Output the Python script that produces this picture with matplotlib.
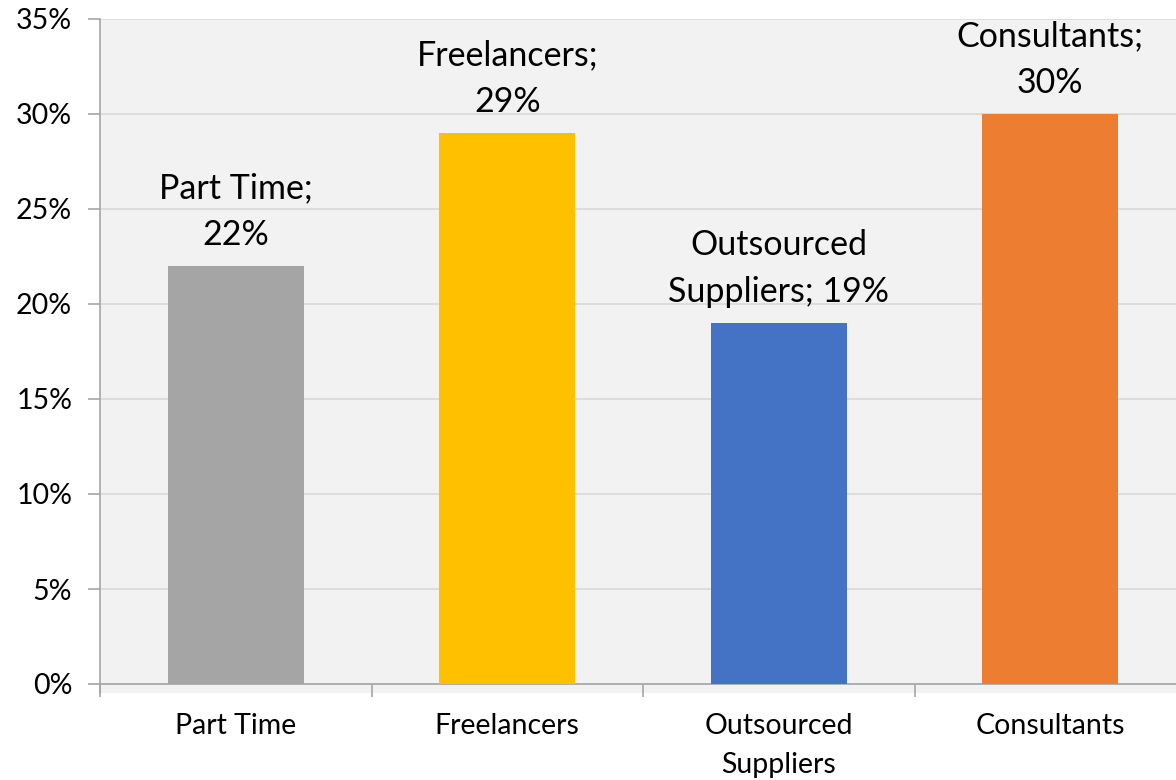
import matplotlib
matplotlib.use("Agg")
import matplotlib.pyplot as plt
from matplotlib.ticker import FuncFormatter, FixedLocator

categories = ["Part Time", "Freelancers", "Outsourced\nSuppliers", "Consultants"]
label_texts = ["Part Time;\n22%", "Freelancers;\n29%", "Outsourced\nSuppliers; 19%", "Consultants;\n30%"]
values = [0.22, 0.29, 0.19, 0.30]
colors = ["#a5a5a5", "#ffc000", "#4472c4", "#ed7d31"]

plt.rcParams["font.family"] = ["Lato", "DejaVu Sans"]

fig = plt.figure(figsize=(11.76, 7.8), dpi=100, facecolor="white")
# plot area runs a little past the right edge, like the cropped original
ax = fig.add_axes([100 / 1176, 1 - 693 / 780, 1086 / 1176, 674 / 780])
ax.set_facecolor("#f2f2f2")

x = range(len(values))
ax.bar(x, values, width=0.5, color=colors, zorder=3)

ax.set_xlim(-0.5, 3.5)
ax.set_ylim(-0.35 * 9 / 665, 0.35)
ax.set_yticks([i * 0.05 for i in range(8)])
ax.yaxis.set_major_formatter(FuncFormatter(lambda v, p: "{:.0f}%".format(v * 100)))
ax.grid(axis="y", color="#d9d9d9", linewidth=1.2, zorder=0)

for s in ["top", "right"]:
    ax.spines[s].set_visible(False)
ax.spines["bottom"].set_position(("data", 0))
ax.spines["bottom"].set_color("#a6a6a6")
ax.spines["left"].set_color("#a6a6a6")
ax.spines["bottom"].set_linewidth(1.2)
ax.spines["left"].set_linewidth(1.2)

ax.xaxis.set_major_locator(FixedLocator([-0.5, 0.5, 1.5, 2.5, 3.5]))
ax.xaxis.set_major_formatter(FuncFormatter(lambda v, p: ""))
ax.xaxis.set_minor_locator(FixedLocator(list(x)))
ax.set_xticklabels(categories, minor=True)
ax.tick_params(axis="x", which="major", direction="out", length=9, width=1.2, color="#a6a6a6")
ax.tick_params(axis="x", which="minor", length=0, pad=21, labelsize=20.5)
ax.tick_params(axis="y", direction="out", length=9, width=1.2, color="#a6a6a6", labelsize=20.5, pad=11)
for t in ax.get_xticklabels(minor=True):
    t.set_linespacing(1.62)

for i, v in enumerate(values):
    ax.annotate(label_texts[i], (i, v), xytext=(0, 11), textcoords="offset points",
                ha="center", va="bottom", fontsize=24.5, linespacing=1.55, zorder=4)

fig.savefig("out.png", dpi=100, facecolor="white")
